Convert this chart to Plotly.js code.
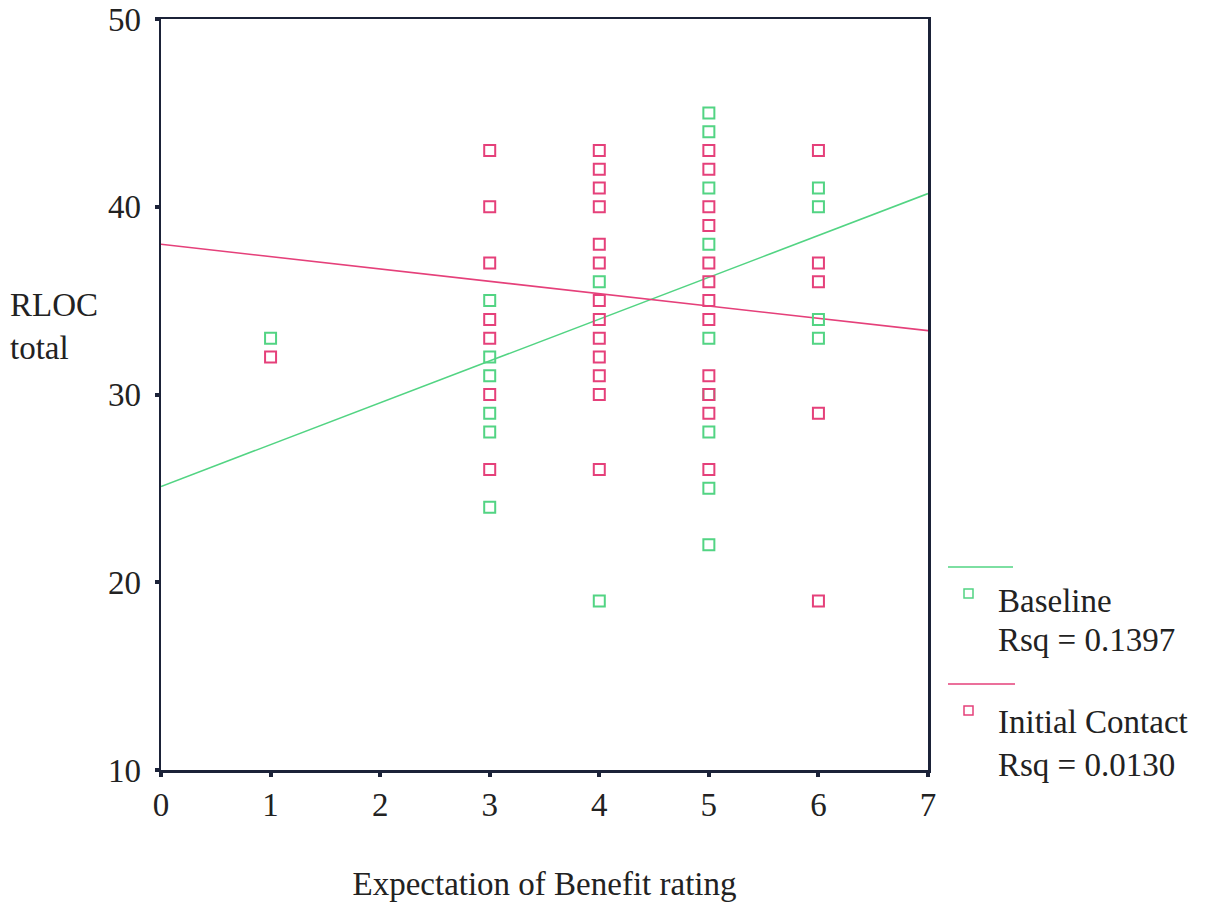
<!DOCTYPE html>
<html>
<head>
<meta charset="utf-8">
<script src="https://cdn.plot.ly/plotly-3.0.1.min.js"></script>
<style>
html,body{margin:0;padding:0;background:#fff;}
#chart{width:1214px;height:907px;}
</style>
</head>
<body>
<div id="chart"></div>
<script>
// Baseline (green) points
var baselineX = [1, 3, 3, 3, 3, 3, 3, 4, 4, 5, 5, 5, 5, 5, 5, 5, 5, 5, 6, 6, 6, 6];
var baselineY = [33, 35, 32, 31, 29, 28, 24, 36, 19, 45, 44, 41, 38, 33, 30, 28, 25, 22, 41, 40, 34, 33];
// Initial Contact (pink) points
var initialX = [1, 3, 3, 3, 3, 3, 3, 3, 4, 4, 4, 4, 4, 4, 4, 4, 4, 4, 4, 4, 4, 5, 5, 5, 5, 5, 5, 5, 5, 5, 5, 5, 5, 6, 6, 6, 6, 6];
var initialY = [32, 43, 40, 37, 34, 33, 30, 26, 43, 42, 41, 40, 38, 37, 35, 34, 33, 32, 31, 30, 26, 43, 42, 40, 39, 37, 36, 35, 34, 31, 30, 29, 26, 43, 37, 36, 29, 19];
// Fit lines
var fitX = [0, 7];
var baselineFitY = [25.1, 40.7];
var initialFitY = [38.0, 33.4];
var xTicks = [0, 1, 2, 3, 4, 5, 6, 7];
var yTicks = [10, 20, 30, 40, 50];

var green = '#52d483';
var pink = '#e5407a';
var axisColor = '#1b2238';
var font = 'Liberation Serif, Times New Roman, serif';
var fs = 33;

var traces = [
  {x: fitX, y: baselineFitY, mode: 'lines', line: {color: green, width: 1.6}, showlegend: false, hoverinfo: 'skip'},
  {x: fitX, y: initialFitY, mode: 'lines', line: {color: pink, width: 1.6}, showlegend: false, hoverinfo: 'skip'},
  {x: baselineX, y: baselineY, mode: 'markers', name: 'Baseline',
   marker: {symbol: 'square-open', size: 11, color: green, line: {width: 2, color: green}}, showlegend: false},
  {x: initialX, y: initialY, mode: 'markers', name: 'Initial Contact',
   marker: {symbol: 'square-open', size: 11, color: pink, line: {width: 2, color: pink}}, showlegend: false}
];

var L = 161, R = 928, T = 19, B = 770, W = 1214, H = 907;
function px(x){ return (x - L) / (R - L); }
function py(y){ return (B - y) / (B - T); }

var layout = {
  width: W, height: H,
  margin: {l: L, r: W - R, t: T, b: H - B},
  paper_bgcolor: '#ffffff', plot_bgcolor: '#ffffff',
  font: {family: font, size: fs, color: '#222222'},
  xaxis: {
    range: [0, 7], tickvals: xTicks, ticktext: xTicks.map(String),
    showgrid: false, zeroline: false, showline: true, mirror: true,
    linecolor: axisColor, linewidth: 2.5,
    ticks: 'outside', ticklen: 4, tickwidth: 4, tickcolor: axisColor,
    tickfont: {family: font, size: fs, color: '#222'},
    title: {text: 'Expectation of Benefit rating', font: {family: font, size: fs, color: '#222'}, standoff: 50}
  },
  yaxis: {
    range: [10, 50], tickvals: yTicks, ticktext: yTicks.map(String),
    showgrid: false, zeroline: false, showline: true, mirror: true,
    linecolor: axisColor, linewidth: 2.5,
    ticks: 'outside', ticklen: 4, tickwidth: 4, tickcolor: axisColor,
    ticklabelstandoff: 7,
    tickfont: {family: font, size: fs, color: '#222'}
  },
  annotations: [
    {xref: 'paper', yref: 'paper', x: px(8), y: py(326), xanchor: 'left', yanchor: 'middle',
     text: 'RLOC<br>total', showarrow: false, align: 'left', font: {family: font, size: fs, color: '#222'}},
    {xref: 'paper', yref: 'paper', x: px(996), y: py(601), xanchor: 'left', yanchor: 'middle',
     text: 'Baseline', showarrow: false, align: 'left', font: {family: font, size: fs, color: '#222'}},
    {xref: 'paper', yref: 'paper', x: px(996), y: py(640), xanchor: 'left', yanchor: 'middle',
     text: 'Rsq = 0.1397', showarrow: false, align: 'left', font: {family: font, size: fs, color: '#222'}},
    {xref: 'paper', yref: 'paper', x: px(996), y: py(722), xanchor: 'left', yanchor: 'middle',
     text: 'Initial Contact', showarrow: false, align: 'left', font: {family: font, size: fs, color: '#222'}},
    {xref: 'paper', yref: 'paper', x: px(996), y: py(765), xanchor: 'left', yanchor: 'middle',
     text: 'Rsq = 0.0130', showarrow: false, align: 'left', font: {family: font, size: fs, color: '#222'}}
  ],
  shapes: [
    {type: 'line', xref: 'paper', yref: 'paper', x0: px(948), x1: px(1013), y0: py(567), y1: py(567), line: {color: green, width: 1.5}},
    {type: 'rect', xref: 'paper', yref: 'paper', x0: px(964), x1: px(973), y0: py(589), y1: py(598), line: {color: green, width: 1.5}},
    {type: 'line', xref: 'paper', yref: 'paper', x0: px(948), x1: px(1015), y0: py(684), y1: py(684), line: {color: pink, width: 1.5}},
    {type: 'rect', xref: 'paper', yref: 'paper', x0: px(964), x1: px(973), y0: py(706), y1: py(715), line: {color: pink, width: 1.5}}
  ]
};

Plotly.newPlot('chart', traces, layout, {displayModeBar: false, staticPlot: true});
</script>
</body>
</html>
